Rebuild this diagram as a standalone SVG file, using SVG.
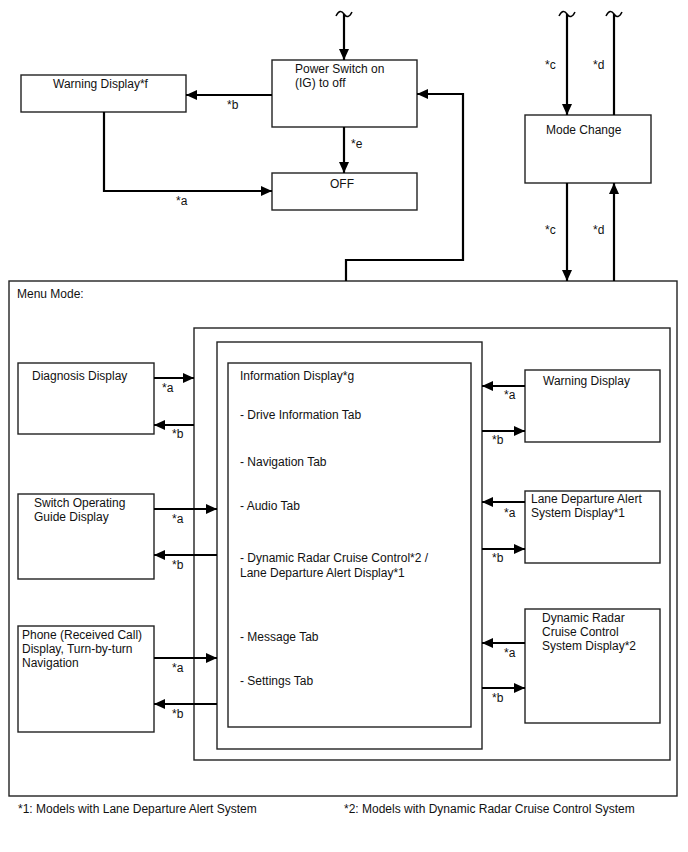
<svg xmlns="http://www.w3.org/2000/svg" width="688" height="852" viewBox="0 0 688 852">
<style>
text{font-family:"Liberation Sans",Arial,sans-serif;font-size:12px;fill:#111}
.box{fill:#fff;stroke:#222;stroke-width:1.4}
.frame{fill:none;stroke:#222;stroke-width:1.4}
.ln{fill:none;stroke:#000;stroke-width:2.2}
.tl{fill:none;stroke:#000;stroke-width:1.5}
</style>
<defs>
<marker id="ah" markerWidth="11" markerHeight="10" refX="11" refY="5" orient="auto" markerUnits="userSpaceOnUse">
<path d="M0,0 L11,5 L0,10 Z" fill="#000"/>
</marker>
</defs>
<rect width="688" height="852" fill="#fff"/>

<g id="menu-mode">
<rect class="frame" x="9" y="281" width="668" height="515"/>
<text x="17" y="298">Menu Mode:</text>
</g>
<g id="frame-1"><rect class="frame" x="194" y="328" width="476" height="432"/></g>
<g id="frame-2"><rect class="frame" x="217" y="342" width="265" height="407"/></g>

<g id="warning-display-f">
<rect class="box" x="21" y="75" width="165" height="37"/>
<text x="53" y="88">Warning Display*f</text>
</g>
<g id="power-switch">
<rect class="box" x="272" y="60" width="145" height="67"/>
<text x="295" y="73">Power Switch on</text>
<text x="295" y="87">(IG) to off</text>
</g>
<g id="off">
<rect class="box" x="272" y="173" width="145" height="37"/>
<text x="330" y="188">OFF</text>
</g>
<g id="mode-change">
<rect class="box" x="525" y="115" width="126" height="68"/>
<text x="546" y="134">Mode Change</text>
</g>

<g id="information-display">
<rect class="box" x="228" y="363" width="243" height="364"/>
<text x="240" y="380">Information Display*g</text>
<text x="240" y="419">- Drive Information Tab</text>
<text x="240" y="466">- Navigation Tab</text>
<text x="240" y="510">- Audio Tab</text>
<text x="240" y="562">- Dynamic Radar Cruise Control*2 /</text>
<text x="240" y="577">Lane Departure Alert Display*1</text>
<text x="240" y="641">- Message Tab</text>
<text x="240" y="685">- Settings Tab</text>
</g>

<g id="diagnosis-display">
<rect class="box" x="18" y="363" width="136" height="71"/>
<text x="32" y="380">Diagnosis Display</text>
</g>
<g id="switch-operating-guide">
<rect class="box" x="18" y="494" width="136" height="85"/>
<text x="34" y="507">Switch Operating</text>
<text x="34" y="521">Guide Display</text>
</g>
<g id="phone-display">
<rect class="box" x="18" y="626" width="136" height="106"/>
<text x="22" y="639">Phone (Received Call)</text>
<text x="22" y="653">Display, Turn-by-turn</text>
<text x="22" y="667">Navigation</text>
</g>
<g id="warning-display">
<rect class="box" x="525" y="370" width="135" height="72"/>
<text x="543" y="385">Warning Display</text>
</g>
<g id="lane-departure-display">
<rect class="box" x="525" y="491" width="135" height="72"/>
<text x="531" y="503">Lane Departure Alert</text>
<text x="531" y="517">System Display*1</text>
</g>
<g id="drcc-display">
<rect class="box" x="525" y="609" width="135" height="114"/>
<text x="542" y="622">Dynamic Radar</text>
<text x="542" y="636">Cruise Control</text>
<text x="542" y="650">System Display*2</text>
</g>

<g id="connectors">
<path class="tl" d="M336,16 Q340,8 344,14 T352,12"/>
<path class="tl" d="M559,16 Q563,8 567,14 T575,12"/>
<path class="tl" d="M606,16 Q610,8 614,14 T622,12"/>
<line class="ln" x1="344" y1="14" x2="344" y2="60" marker-end="url(#ah)"/>
<line class="ln" x1="272" y1="95" x2="186" y2="95" marker-end="url(#ah)"/>
<polyline class="ln" points="104,112 104,191 272,191" marker-end="url(#ah)"/>
<line class="ln" x1="344" y1="127" x2="344" y2="173" marker-end="url(#ah)"/>
<polyline class="ln" points="346,281 346,260 463,260 463,94 417,94" marker-end="url(#ah)"/>
<line class="ln" x1="567" y1="14" x2="567" y2="115" marker-end="url(#ah)"/>
<line class="ln" x1="614" y1="115" x2="614" y2="14"/>
<line class="ln" x1="567" y1="183" x2="567" y2="281" marker-end="url(#ah)"/>
<line class="ln" x1="614" y1="281" x2="614" y2="183" marker-end="url(#ah)"/>

<line class="ln" x1="154" y1="378" x2="194" y2="378" marker-end="url(#ah)"/>
<line class="ln" x1="194" y1="425" x2="154" y2="425" marker-end="url(#ah)"/>
<line class="ln" x1="154" y1="509" x2="217" y2="509" marker-end="url(#ah)"/>
<line class="ln" x1="217" y1="555" x2="154" y2="555" marker-end="url(#ah)"/>
<line class="ln" x1="154" y1="658" x2="217" y2="658" marker-end="url(#ah)"/>
<line class="ln" x1="217" y1="704" x2="154" y2="704" marker-end="url(#ah)"/>

<line class="ln" x1="525" y1="386" x2="482" y2="386" marker-end="url(#ah)"/>
<line class="ln" x1="482" y1="431" x2="525" y2="431" marker-end="url(#ah)"/>
<line class="ln" x1="525" y1="502" x2="482" y2="502" marker-end="url(#ah)"/>
<line class="ln" x1="482" y1="549" x2="525" y2="549" marker-end="url(#ah)"/>
<line class="ln" x1="525" y1="643" x2="482" y2="643" marker-end="url(#ah)"/>
<line class="ln" x1="482" y1="688" x2="525" y2="688" marker-end="url(#ah)"/>

<text x="227" y="109">*b</text>
<text x="176" y="205">*a</text>
<text x="351" y="148">*e</text>
<text x="545" y="69">*c</text>
<text x="593" y="69">*d</text>
<text x="545" y="234">*c</text>
<text x="593" y="234">*d</text>
<text x="162" y="392">*a</text>
<text x="172" y="438">*b</text>
<text x="172" y="523">*a</text>
<text x="172" y="569">*b</text>
<text x="172" y="672">*a</text>
<text x="172" y="718">*b</text>
<text x="504" y="399">*a</text>
<text x="492" y="444">*b</text>
<text x="504" y="517">*a</text>
<text x="492" y="562">*b</text>
<text x="504" y="657">*a</text>
<text x="492" y="702">*b</text>
</g>

<g id="footnotes">
<text x="18" y="813">*1: Models with Lane Departure Alert System</text>
<text x="344" y="813">*2: Models with Dynamic Radar Cruise Control System</text>
</g>
</svg>
